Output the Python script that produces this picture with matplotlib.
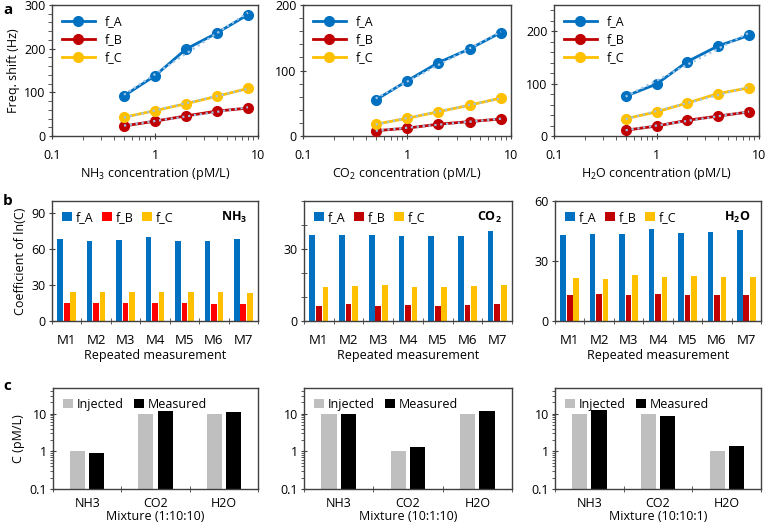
import numpy as np
import matplotlib
matplotlib.use('Agg')
import matplotlib.pyplot as plt
from matplotlib.ticker import FixedLocator, FuncFormatter, MultipleLocator, LogLocator, NullFormatter

plt.rcParams['font.family'] = ['Open Sans', 'DejaVu Sans']
plt.rcParams['mathtext.fontset'] = 'custom'
plt.rcParams['mathtext.rm'] = 'Open Sans'
plt.rcParams['mathtext.bf'] = 'Open Sans:bold'
plt.rcParams['mathtext.it'] = 'Open Sans:italic'
plt.rcParams['font.size'] = 8

# ---- data: panel a (frequency shift vs concentration) ----
conc = [0.5, 1, 2, 4, 8]
nh3_fA = [92, 138, 199, 236, 278]
nh3_fB = [23, 34, 46, 57, 64]
nh3_fC = [43, 58, 74, 91, 109]
co2_fA = [55, 84, 112, 133, 158]
co2_fB = [8, 12, 18, 22, 26]
co2_fC = [18, 27, 37, 47, 58]
h2o_fA = [76, 99, 142, 172, 192]
h2o_fB = [11, 19, 30, 38, 46]
h2o_fC = [33, 46, 63, 81, 92]

# ---- data: panel b (coefficient of ln(C), repeated measurements) ----
meas = ['M1', 'M2', 'M3', 'M4', 'M5', 'M6', 'M7']
b_nh3_fA = [68.6, 66.4, 67.2, 69.7, 66.4, 66.4, 68.6]
b_nh3_fB = [15.3, 15.3, 15.3, 15.3, 14.7, 14.4, 14.4]
b_nh3_fC = [24.2, 24.0, 24.0, 24.0, 24.0, 24.4, 23.6]
b_co2_fA = [35.8, 35.8, 35.8, 35.6, 35.6, 35.6, 37.6]
b_co2_fB = [6.1, 6.9, 6.4, 6.8, 6.1, 6.8, 6.9]
b_co2_fC = [14.1, 14.5, 14.9, 14.1, 14.1, 14.4, 15.1]
b_h2o_fA = [42.8, 43.5, 43.3, 45.8, 43.8, 44.3, 45.3]
b_h2o_fB = [12.8, 13.3, 13.2, 13.3, 13.0, 13.2, 13.0]
b_h2o_fC = [21.3, 21.0, 22.8, 22.2, 22.3, 21.8, 21.8]

# ---- data: panel c (mixtures) ----
gases = ['NH3', 'CO2', 'H2O']
mix_names = ['Mixture (1:10:10)', 'Mixture (10:1:10)', 'Mixture (10:10:1)']
inj_1 = [1, 10, 10]
mea_1 = [0.9, 11.7, 10.8]
inj_2 = [10, 1, 10]
mea_2 = [9.6, 1.27, 11.7]
inj_3 = [10, 10, 1]
mea_3 = [12.5, 8.9, 1.38]

BLUE = '#0070C0'
DRED = '#C00000'
RED = '#FF0000'
YEL = '#FFC000'
FIT = '#9DC3E6'
SPINE = '#404040'
FS = 9

fig = plt.figure(figsize=(7.66, 5.29), dpi=100)
W, H = 766.0, 529.0


def ax_px(left, top, right, bottom):
    return fig.add_axes([left / W, 1 - bottom / H, (right - left) / W, (bottom - top) / H])


def style(ax):
    for s in ax.spines.values():
        s.set_color(SPINE)
        s.set_linewidth(1.0)
    ax.tick_params(which='both', color=SPINE, labelsize=FS, pad=2)


# ---------------- panel a ----------------
a_sets = [(nh3_fA, nh3_fB, nh3_fC, r'NH$_3$ concentration (pM/L)', 300, 20),
          (co2_fA, co2_fB, co2_fC, r'CO$_2$ concentration (pM/L)', 200, 20),
          (h2o_fA, h2o_fB, h2o_fC, r'H$_2$O concentration (pM/L)', 250, 20)]
a_pos = [(52, 5, 258, 136), (303, 5, 511, 136), (554, 5, 759, 136)]
for i, (fa, fb, fc, xl, ytop, ymin_step) in enumerate(a_sets):
    ax = ax_px(*a_pos[i])
    style(ax)
    x = np.array(conc)
    for y, c, lab in [(fa, BLUE, 'f_A'), (fb, DRED, 'f_B'), (fc, YEL, 'f_C')]:
        ax.plot(x, y, '-o', color=c, lw=2.0, ms=7, label=lab, zorder=3)
        # log trendline fitted from the data
        k, b = np.polyfit(np.log(x), y, 1)
        ax.plot(x, k * np.log(x) + b, ':', color=FIT, lw=1.6, zorder=4)
    ax.set_xscale('log')
    ax.set_xlim(0.1, 10)
    ax.set_ylim(0, ytop)
    ax.xaxis.set_major_locator(FixedLocator([0.1, 1, 10]))
    ax.xaxis.set_major_formatter(FuncFormatter(lambda v, p: '%g' % v))
    ax.xaxis.set_minor_locator(LogLocator(base=10, subs=np.arange(2, 10)))
    ax.xaxis.set_minor_formatter(NullFormatter())
    ax.yaxis.set_major_locator(MultipleLocator(100))
    ax.yaxis.set_minor_locator(MultipleLocator(ymin_step))
    ax.tick_params(which='major', direction='inout', length=5)
    ax.tick_params(which='minor', direction='out', length=3)
    ax.tick_params(axis='x', which='major', pad=7)
    ax.set_xlabel(xl, fontsize=FS, labelpad=3)
    if i == 0:
        ax.set_ylabel('Freq. shift (Hz)', fontsize=FS, labelpad=3)
    ax.legend(loc='upper left', frameon=False, fontsize=FS, handlelength=2.6,
              borderaxespad=0.4, labelspacing=0.4, bbox_to_anchor=(0.0, 1.0))

# ---------------- panel b ----------------
b_sets = [(b_nh3_fA, b_nh3_fB, b_nh3_fC, RED, r'$\mathbf{NH_3}$', 100, [0, 30, 60, 90], 30),
          (b_co2_fA, b_co2_fB, b_co2_fC, DRED, r'$\mathbf{CO_2}$', 50, [0, 30], 10),
          (b_h2o_fA, b_h2o_fB, b_h2o_fC, DRED, r'$\mathbf{H_2O}$', 60, [0, 30, 60], 30)]
b_pos = [(52, 201, 258, 321), (304, 201, 512, 321), (555, 201, 761, 321)]
xm = np.arange(len(meas))
for i, (fa, fb, fc, cb, gl, ytop, yt, ymin_step) in enumerate(b_sets):
    ax = ax_px(*b_pos[i])
    style(ax)
    ax.bar(xm - 0.22, fa, 0.19, color=BLUE, label='f_A')
    ax.bar(xm, fb, 0.19, color=cb, label='f_B')
    ax.bar(xm + 0.22, fc, 0.19, color=YEL, label='f_C')
    ax.set_xlim(-0.5, len(meas) - 0.5)
    ax.set_ylim(0, ytop)
    ax.set_yticks(yt)
    ax.yaxis.set_minor_locator(MultipleLocator(ymin_step))
    ax.set_xticks(xm)
    ax.set_xticklabels(meas)
    ax.set_xticks(np.arange(-0.5, len(meas)), minor=True)
    ax.tick_params(axis='x', which='major', length=0, pad=9, labelsize=9.5)
    ax.tick_params(axis='x', which='minor', direction='inout', length=5)
    ax.tick_params(axis='y', which='both', direction='inout', length=5)
    ax.set_xlabel('Repeated measurement', fontsize=FS, labelpad=2)
    if i == 0:
        ax.set_ylabel('Coefficient of ln(C)', fontsize=FS, labelpad=3)
    ax.legend(loc='upper left', ncol=3, frameon=False, fontsize=FS, handlelength=0.8,
              handleheight=0.8, handletextpad=0.3, columnspacing=0.7, borderaxespad=0.4)
    ax.text(0.95, 0.86, gl, transform=ax.transAxes, ha='right', va='center', fontsize=FS)

# ---------------- panel c ----------------
c_sets = [(inj_1, mea_1), (inj_2, mea_2), (inj_3, mea_3)]
c_pos = [(53, 388, 258, 489), (304, 388, 512, 489), (555, 388, 761, 489)]
xg = np.arange(len(gases))
for i, (inj, mea) in enumerate(c_sets):
    ax = ax_px(*c_pos[i])
    style(ax)
    ax.bar(xg - 0.14, inj, 0.22, color='#BFBFBF', label='Injected')
    ax.bar(xg + 0.14, mea, 0.22, color='#000000', label='Measured')
    ax.set_yscale('log')
    ax.set_ylim(0.1, 48)
    ax.set_xlim(-0.5, len(gases) - 0.5)
    ax.yaxis.set_major_locator(FixedLocator([0.1, 1, 10]))
    ax.yaxis.set_major_formatter(FuncFormatter(lambda v, p: '%g' % v))
    ax.yaxis.set_minor_locator(LogLocator(base=10, subs=np.arange(2, 10)))
    ax.yaxis.set_minor_formatter(NullFormatter())
    ax.set_xticks(xg)
    ax.set_xticklabels(gases)
    ax.set_xticks(np.arange(-0.5, len(gases)), minor=True)
    ax.tick_params(axis='x', which='major', length=0, pad=6, labelsize=FS)
    ax.tick_params(axis='x', which='minor', direction='inout', length=5)
    ax.tick_params(axis='y', which='major', direction='inout', length=5)
    ax.tick_params(axis='y', which='minor', direction='out', length=2.5)
    ax.set_xlabel(mix_names[i], fontsize=FS, labelpad=0)
    if i == 0:
        ax.set_ylabel('C (pM/L)', fontsize=FS, labelpad=3)
    ax.legend(loc='upper left', ncol=2, frameon=False, fontsize=FS, handlelength=0.8,
              handleheight=0.8, handletextpad=0.3, columnspacing=0.8, borderaxespad=0.4)

# panel letters
fig.text(3 / W, 1 - 10 / H, 'a', fontsize=11, fontweight='bold', va='center')
fig.text(3 / W, 1 - 201 / H, 'b', fontsize=11, fontweight='bold', va='center')
fig.text(3 / W, 1 - 386 / H, 'c', fontsize=11, fontweight='bold', va='center')

fig.savefig('out.png', dpi=100)
